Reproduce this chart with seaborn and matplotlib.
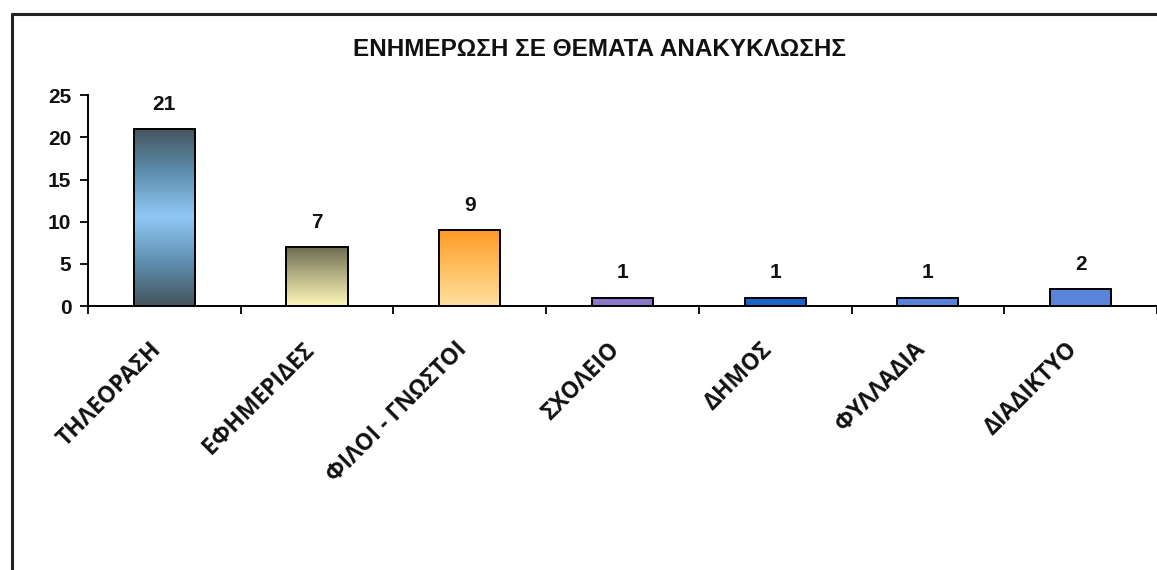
import numpy as np
import pandas as pd
import matplotlib
import matplotlib.pyplot as plt
from matplotlib.colors import LinearSegmentedColormap
from matplotlib.lines import Line2D
from matplotlib.transforms import ScaledTranslation
import seaborn as sns

# data
categories = ['ΤΗΛΕΟΡΑΣΗ', 'ΕΦΗΜΕΡΙΔΕΣ', 'ΦΙΛΟΙ - ΓΝΩΣΤΟΙ', 'ΣΧΟΛΕΙΟ',
              'ΔΗΜΟΣ', 'ΦΥΛΛΑΔΙΑ', 'ΔΙΑΔΙΚΤΥΟ']
counts = [21, 7, 9, 1, 1, 1, 2]
title = 'ΕΝΗΜΕΡΩΣΗ ΣΕ ΘΕΜΑΤΑ ΑΝΑΚΥΚΛΩΣΗΣ'
yticks = [0, 5, 10, 15, 20, 25]

# gradient stops for each bar, top -> bottom
bar_gradients = [
    ['#44545c', '#5f8fb0', '#90c8f4', '#5f8fb0', '#44545c'],
    ['#6a6a50', '#b8b488', '#fff8b8'],
    ['#ff9a28', '#ffc060', '#ffe0a0'],
    ['#8a78c8', '#8a78c8'],
    ['#1a64c8', '#1a64c8'],
    ['#5a82d8', '#5a82d8'],
    ['#5a84dc', '#5a84dc'],
]

df = pd.DataFrame({'source': categories, 'count': counts})

sns.set_style('white')
plt.rcParams['font.family'] = ['Liberation Sans', 'DejaVu Sans']
plt.rcParams['text.color'] = 'black'
plt.rcParams['xtick.color'] = 'black'
plt.rcParams['ytick.color'] = 'black'

fig = plt.figure(figsize=(11.57, 5.70), dpi=100)
ax = fig.add_axes([0.076, 0.463, 0.924, 0.37])

sns.barplot(data=df, x='source', y='count', ax=ax, width=0.4,
            color='white', edgecolor='black', linewidth=1.4, saturation=1)

ax.set_ylim(0, 25)
ax.set_xlim(-0.5, 6.5)

# gradient fill inside each bar
for patch, stops in zip(ax.patches, bar_gradients):
    x0, y0 = patch.get_x(), patch.get_y()
    w, h = patch.get_width(), patch.get_height()
    cmap = LinearSegmentedColormap.from_list('g', stops)
    grad = np.linspace(0, 1, 256).reshape(-1, 1)
    im = ax.imshow(grad, cmap=cmap, aspect='auto', extent=[x0, x0 + w, y0, y0 + h],
                   origin='upper', zorder=patch.get_zorder() - 0.1)
    im.set_clip_path(patch)
    patch.set_facecolor('none')
    patch.set_zorder(3)

# value labels
for i, v in enumerate(counts):
    ax.text(i, v + 1.8, str(v), ha='center', va='bottom',
            fontsize=15, fontweight='bold', color='#111111')

ax.set_yticks(yticks)
ax.set_yticklabels([str(t) for t in yticks], fontsize=15, fontweight='bold', color='#111111')
ax.set_xticks(range(len(categories)))
ax.set_xticklabels(categories, rotation=45, ha='right', rotation_mode='anchor',
                   fontsize=16.5, fontweight='bold', color='#111111',
                   family=['Open Sans', 'DejaVu Sans'])
ax.set_xticks(np.arange(-0.5, len(categories), 1.0), minor=True)
ax.tick_params(axis='x', which='major', bottom=True, length=0, pad=20)
ax.tick_params(axis='x', which='minor', bottom=True, length=6, width=1.3, direction='out')
ax.tick_params(axis='y', left=True, length=6, width=1.3, direction='out', pad=6)
ax.set_xlabel('')
ax.set_ylabel('')

# nudge rotated labels so they end just left of the bar centre
shift = ScaledTranslation(-0.15, -0.04, fig.dpi_scale_trans)
for lbl in ax.get_xticklabels():
    lbl.set_transform(lbl.get_transform() + shift)

for side in ['top', 'right']:
    ax.spines[side].set_visible(False)
for side in ['left', 'bottom']:
    ax.spines[side].set_color('black')
    ax.spines[side].set_linewidth(1.4)

fig.text(0.518, 1 - 50 / 570, title, ha='center', va='center', fontsize=17.5,
         fontweight='bold', color='#111111')

# outer frame (left and top)
fig.add_artist(Line2D([12 / 1157, 12 / 1157], [0, 1 - 14 / 570],
                      transform=fig.transFigure, color='#222222', linewidth=2.2))
fig.add_artist(Line2D([12 / 1157, 1], [1 - 14 / 570, 1 - 14 / 570],
                      transform=fig.transFigure, color='#222222', linewidth=2.2))

plt.savefig('out.png', dpi=100)
